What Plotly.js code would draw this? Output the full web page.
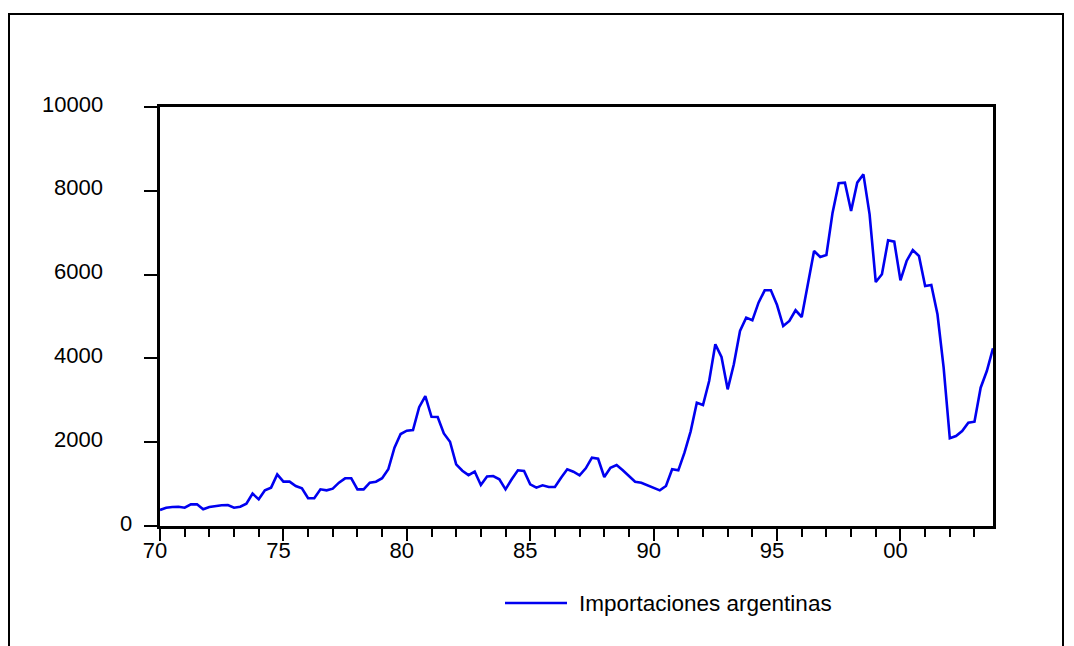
<!DOCTYPE html>
<html>
<head>
<meta charset="utf-8">
<script src="https://cdn.plot.ly/plotly-3.0.1.min.js"></script>
<style>
  html, body { margin: 0; padding: 0; background: #fff; }
  #chart { width: 1074px; height: 646px; }
</style>
</head>
<body>
<div id="chart"></div>
<script>
// ---- Data (quarterly, 1970Q1 - 2003Q4) ----
const startYear = 1970;
const seriesName = 'Importaciones argentinas';
const imports = [
  382, 437, 455, 460,      // 1970
  437, 517, 517, 398,      // 1971
  453, 477, 495, 501,      // 1972
  437, 461, 533, 772,      // 1973
  636, 851, 915, 1233,     // 1974
  1058, 1058, 955, 899,    // 1975
  661, 661, 875, 851,      // 1976
  891, 1034, 1138, 1138,   // 1977
  875, 875, 1034, 1058,    // 1978
  1140, 1353, 1870, 2195,  // 1979
  2275, 2290, 2835, 3100,  // 1980
  2605, 2601, 2210, 2010,  // 1981
  1470, 1320, 1215, 1300,  // 1982
  979, 1180, 1193, 1114,   // 1983
  875, 1114, 1329, 1313,   // 1984
  995, 915, 971, 931,      // 1985
  931, 1153, 1353, 1296,   // 1986
  1210, 1377, 1630, 1606,  // 1987
  1169, 1391, 1456, 1329,  // 1988
  1193, 1058, 1034, 971,   // 1989
  915, 851, 955, 1353,     // 1990
  1329, 1750, 2260, 2943,  // 1991
  2888, 3461, 4336, 4033,  // 1992
  3262, 3859, 4654, 4972,  // 1993
  4909, 5330, 5625, 5625,  // 1994
  5274, 4773, 4893, 5148,  // 1995
  4988, 5768, 6563, 6420,  // 1996
  6468, 7478, 8180, 8194,  // 1997
  7518, 8194, 8393, 7439,  // 1998
  5823, 6007, 6818, 6786,  // 1999
  5864, 6325, 6587, 6444,  // 2000
  5728, 5752, 5052, 3778,  // 2001
  2093, 2148, 2267, 2465,  // 2002
  2489, 3301, 3699, 4241   // 2003
];
const xTickVals = [1970, 1975, 1980, 1985, 1990, 1995, 2000];
const xTickText = ['70', '75', '80', '85', '90', '95', '00'];
const yTickVals = [0, 2000, 4000, 6000, 8000, 10000];
const yTickText = ['0', '2000', '4000', '6000', '8000', '10000'];

// quarter positions on the time axis
const quarters = imports.map((_, i) => startYear + i / 4);

// ---- Layout helpers (pixel -> paper) ----
const W = 1074, H = 646;
const M = { l: 160, r: 81, t: 107, b: 120 };
const PW = W - M.l - M.r, PH = H - M.t - M.b;
const px = x => (x - M.l) / PW;
const py = y => (H - M.b - y) / PH;

const FONT = 'Liberation Sans, Arial, sans-serif';

const trace = {
  x: quarters,
  y: imports,
  type: 'scatter',
  mode: 'lines',
  name: seriesName,
  line: { color: 'rgb(0,0,240)', width: 2.6 },
  showlegend: false,
  hoverinfo: 'x+y'
};

const yLabelAnnotations = yTickVals.map((v, i) => ({
  xref: 'paper', yref: 'y',
  x: px(yTickText[i].length === 1 ? 134 : 105),
  y: v,
  xanchor: 'right', yanchor: 'middle',
  yshift: 3,
  text: yTickText[i],
  showarrow: false,
  font: { family: FONT, size: 22, color: '#000' }
}));

const layout = {
  width: W, height: H,
  margin: M,
  paper_bgcolor: '#fff',
  plot_bgcolor: '#fff',
  font: { family: FONT, size: 22, color: '#000' },
  xaxis: {
    range: [startYear, quarters[quarters.length - 1]],
    tickvals: xTickVals,
    ticktext: xTickText,
    ticks: 'outside', ticklen: 12, tickwidth: 2, tickcolor: '#000',
    minor: { dtick: 1, tick0: startYear, ticks: 'outside', ticklen: 8, tickwidth: 2, tickcolor: '#000', showgrid: false },
    showline: true, linewidth: 3, linecolor: '#000', mirror: true,
    showgrid: false, zeroline: false,
    ticklabelshift: -5,
    ticklabelstandoff: -9,
    tickfont: { family: FONT, size: 22, color: '#000' }
  },
  yaxis: {
    range: [0, 10000],
    tickvals: yTickVals,
    ticks: 'outside', ticklen: 13, tickwidth: 2, tickcolor: '#000',
    showticklabels: false,
    showline: true, linewidth: 3, linecolor: '#000', mirror: true,
    showgrid: false, zeroline: false
  },
  shapes: [
    // outer frame
    { type: 'rect', xref: 'paper', yref: 'paper',
      x0: px(9), x1: px(1063), y0: py(652), y1: py(14),
      line: { color: '#000', width: 2 }, fillcolor: 'rgba(0,0,0,0)' },
    // legend line sample
    { type: 'line', xref: 'paper', yref: 'paper',
      x0: px(505), x1: px(567), y0: py(603), y1: py(603),
      line: { color: 'rgb(0,0,240)', width: 2.6 } }
  ],
  annotations: yLabelAnnotations.concat([
    { xref: 'paper', yref: 'paper', x: px(577), y: py(603),
      xanchor: 'left', yanchor: 'middle', showarrow: false,
      text: seriesName,
      font: { family: FONT, size: 22.5, color: '#000' } }
  ])
};

Plotly.newPlot('chart', [trace], layout, { displayModeBar: false, staticPlot: true });
</script>
</body>
</html>
